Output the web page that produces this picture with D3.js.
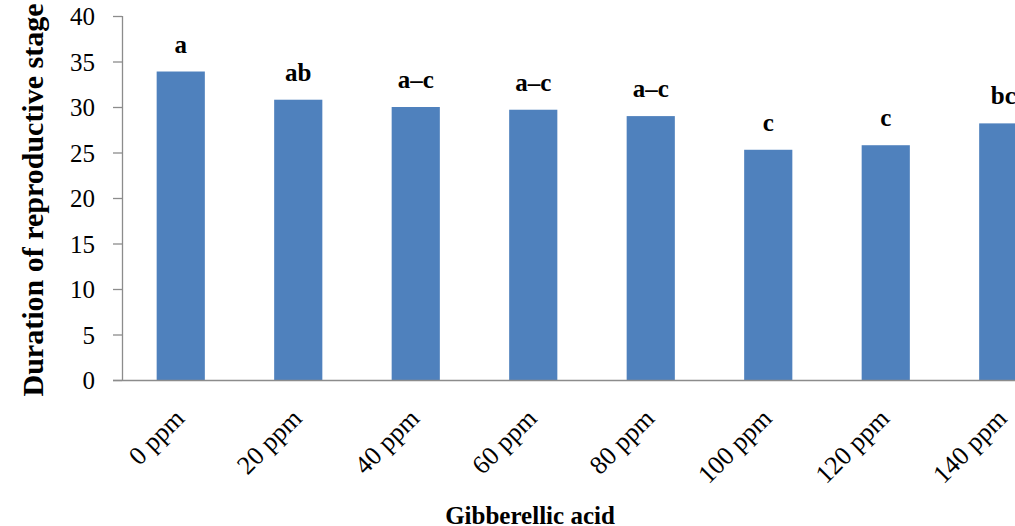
<!DOCTYPE html>
<html>
<head>
<meta charset="utf-8">
<script src="https://cdn.jsdelivr.net/npm/d3@7"></script>
<style>
  body { margin: 0; background: #fff; overflow: hidden; }
  .canvas { width: 1015px; height: 526px; }
  text { font-family: "Liberation Serif", "Times New Roman", serif; fill: #000; }
  .ytick text { font-size: 25px; }
  .xtick text { font-size: 26px; }
  .letter { font-size: 25px; font-weight: bold; }
  .title { font-size: 25px; font-weight: bold; }
  .ytitle { font-size: 30px; font-weight: bold; }
</style>
</head>
<body>
<div class="canvas"></div>
<script>
// values
var categories = ['0 ppm', '20 ppm', '40 ppm', '60 ppm', '80 ppm', '100 ppm', '120 ppm', '140 ppm'];
var values = [33.9, 30.8, 30.0, 29.7, 29.0, 25.3, 25.8, 28.2];
var letters = ['a', 'ab', 'a\u2013c', 'a\u2013c', 'a\u2013c', 'c', 'c', 'bc'];
var yTicks = [0, 5, 10, 15, 20, 25, 30, 35, 40];

var width = 1015, height = 526;
var plotLeft = 122, plotBottom = 380, plotTop = 16;
var plotRight = 1062; // plot runs past the picture edge, last bar is clipped

var svg = d3.select('.canvas').append('svg')
	.attr('width', width).attr('height', height);
var grp = svg.append('g');

var x = d3.scaleBand()
	.domain(categories)
	.range([plotLeft, plotRight])
	.paddingInner(0.59)
	.paddingOuter(0.295);

var y = d3.scaleLinear()
	.domain([0, 40])
	.range([plotBottom, plotTop]);

// bars
grp.selectAll('rect.bar')
	.data(values)
	.enter()
	.append('rect')
	.classed('bar', true)
	.attr('x', (d, i) => x(categories[i]))
	.attr('y', d => y(d))
	.attr('width', x.bandwidth())
	.attr('height', d => y(0) - y(d))
	.attr('fill', '#4f81bd');

// significance letters
grp.selectAll('text.letter')
	.data(values)
	.enter()
	.append('text')
	.classed('letter', true)
	.attr('x', (d, i) => x(categories[i]) + x.bandwidth() / 2)
	.attr('y', d => y(d) - 19)
	.attr('text-anchor', 'middle')
	.text((d, i) => letters[i]);

// y axis
var yAxis = grp.append('g')
	.classed('ytick', true)
	.attr('transform', 'translate(' + plotLeft + ',0)')
	.call(d3.axisLeft(y).tickValues(yTicks).tickSize(9).tickPadding(18));
yAxis.attr('font-family', null).attr('font-size', null);
yAxis.selectAll('line, path').attr('stroke', '#8c8c8c').attr('stroke-width', 1.3);
yAxis.select('.domain').attr('d', 'M0.5,' + plotTop + 'V' + plotBottom);
yAxis.selectAll('.tick text').attr('dy', '0.34em');

// x axis
var xAxis = grp.append('g')
	.classed('xtick', true)
	.attr('transform', 'translate(0,' + plotBottom + ')')
	.call(d3.axisBottom(x).tickSize(0).tickPadding(0));
xAxis.attr('font-family', null).attr('font-size', null);
xAxis.select('.domain')
	.attr('d', 'M' + (plotLeft - 9) + ',0.5H' + plotRight)
	.attr('stroke', '#8c8c8c').attr('stroke-width', 1.3);
xAxis.selectAll('.tick text')
	.attr('text-anchor', 'end')
	.attr('dy', 0)
	.attr('transform', 'translate(5,40) rotate(-45)');

// axis titles
svg.append('text')
	.classed('ytitle', true)
	.attr('text-anchor', 'middle')
	.attr('transform', 'translate(43,200) rotate(-90)')
	.text('Duration of reproductive stage');

svg.append('text')
	.classed('title', true)
	.attr('text-anchor', 'middle')
	.attr('x', 530)
	.attr('y', 524)
	.text('Gibberellic acid');
</script>
</body>
</html>
